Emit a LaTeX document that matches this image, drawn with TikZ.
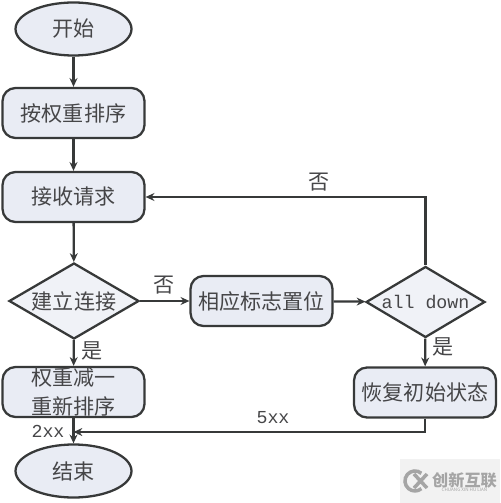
\documentclass[tikz,border=0pt]{standalone}
\usepackage{fontspec}
\usepackage{tikz}
\usetikzlibrary{shapes.geometric, arrows.meta}
\setmainfont{Noto Sans CJK SC}
\newfontfamily\latinmono{Liberation Mono}
\definecolor{linegray}{RGB}{55, 57, 57}
\definecolor{textgray}{RGB}{70, 70, 72}
\definecolor{boxfill}{RGB}{233, 236, 244}
\definecolor{markgray}{RGB}{165, 165, 165}
\tikzset{
  basefont/.style={font=\fontsize{12}{16}\selectfont, text=textgray},
  flowbox/.style={draw=linegray, line width=1.3pt, fill=boxfill, rounded corners=0.26cm,
    minimum width=2.84cm, minimum height=1.0cm, inner sep=0pt, align=center, basefont},
  endpoint/.style={ellipse, draw=linegray, line width=1.3pt, fill=boxfill,
    minimum width=2.32cm, minimum height=1.06cm, inner sep=0pt, basefont},
  decision/.style={diamond, aspect=1.7, draw=linegray, line width=1.3pt, fill=boxfill!70!white,
    inner sep=0pt, basefont},
  flow/.style={draw=linegray, line width=1.3pt, -{Stealth[length=5pt,width=4.5pt]}},
  branch/.style={basefont, inner sep=0pt},
  codetext/.style={font=\fontsize{10.4}{12}\latinmono, text=textgray, inner sep=0pt}
}
\begin{document}
\begin{tikzpicture}[x=0.02cm, y=-0.02cm]
      \useasboundingbox (0,0) rectangle (500,503);
      % left column
      \node[endpoint] (start) at (73.5,29) {开始};
      \node[flowbox] (sort) at (73.5,113) {按权重排序};
      \node[flowbox] (recv) at (73.5,197) {接收请求};
      \node[decision, minimum width=2.6cm, minimum height=1.52cm] (connect) at (74,301) {建立连接};
      \node[flowbox] (weight) at (73.5,392) {权重减一\\重新排序};
      \node[endpoint] (finish) at (73.5,471) {结束};
      % right side
      \node[flowbox] (flag) at (261.5,301) {相应标志置位};
      \node[decision, minimum width=2.38cm, minimum height=1.42cm, font=\fontsize{10.4}{12}\latinmono] (alldown) at (425.5,302) {all down};
      \node[flowbox] (restore) at (425,392.5) {恢复初始状态};
      \coordinate (merge) at (73.5,432);
      % connectors
      \draw[flow] (start) -- (sort);
      \draw[flow] (sort) -- (recv);
      \draw[flow] (recv) -- (connect);
      \draw[flow] (connect) -- (weight);
      \draw[flow] (weight) -- (finish);
      \draw[flow] (connect) -- (flag);
      \draw[flow] (flag) -- (alldown);
      \draw[flow] (alldown) -- (restore);
      \draw[flow] (alldown.north) |- (recv.east);
      \draw[flow] (restore.south) |- (merge);
      % labels
      \node[branch] (nofar) at (319,182) {否};
      \node[branch] (nonear) at (164,285) {否};
      \node[branch] (yesleft) at (92,351) {是};
      \node[branch] (yesright) at (443,347) {是};
      \node[codetext] (code2) at (48,431) {2xx};
      \node[codetext] (code5) at (273,418) {5xx};
      % watermark
      \fill[black!5] (400,459) rectangle (500,503);
      \draw[markgray, line width=2pt] (421.4,473.3) arc (50:310:0.2cm);
      \draw[markgray, line width=2pt] (414,474) -- (427,488) (414,488) -- (427,474);
      \node[markgray, inner sep=0pt, font=\fontsize{9.2}{11}\selectfont\bfseries] (markcn) at (464.5,480) {创新互联};
      \node[markgray, inner sep=0pt, font=\fontsize{2.6}{3}\selectfont] (markpy) at (464.5,490) {CHUANG XIN HU LIAN};
    \end{tikzpicture}
\end{document}
